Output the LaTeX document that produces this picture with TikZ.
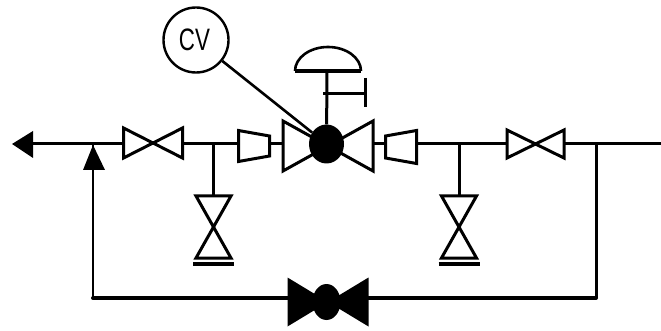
\documentclass[tikz,border=0pt]{standalone}
\usepackage{fontspec}
\usetikzlibrary{shapes.geometric}
\newfontfamily\tagfont[FakeStretch=0.72]{Liberation Sans}
\tikzset{
    pipe/.style={line width=3pt},
    valveline/.style={line width=3pt,line join=miter},
    valvebox/.style={inner sep=0pt,outer sep=0pt,draw=none},
    capbar/.style={line width=4.5pt},
}
\begin{document}
\begin{tikzpicture}[x=1pt,y=-1pt]
    \useasboundingbox (0,0) rectangle (661,331);
    % valves on the line
    \node[valvebox,minimum width=59pt,minimum height=30pt](gatea) at (153,143){};
    \node[valvebox,minimum width=57pt,minimum height=28pt](gateb) at (535.5,144){};
    \node[valvebox,minimum width=90pt,minimum height=50pt](mainv) at (328,146){};
    \node[valvebox,minimum width=35pt,minimum height=62pt](draina) at (213.5,227){};
    \node[valvebox,minimum width=35pt,minimum height=62pt](drainb) at (459,227){};
    \node[valvebox,minimum width=81pt,minimum height=49pt](bypass) at (328,302){};
    \node[valvebox,minimum width=31pt,minimum height=31pt](redua) at (254,146){};
    \node[valvebox,minimum width=31pt,minimum height=33pt](redub) at (401,147){};
    \node[circle,draw,line width=2.4pt,inner sep=0pt,minimum size=65pt,font=\tagfont\fontsize{31}{31}\selectfont](cv) at (196,40){\raisebox{1.5pt}{CV}\hspace*{3pt}};
    \node[ellipse,fill=black,inner sep=0pt,minimum width=35pt,minimum height=39pt](plug) at (326.5,144){};
    \node[ellipse,fill=black,inner sep=0pt,minimum width=28pt,minimum height=36pt](bypassplug) at (326.5,302){};
    % tees and corners
    \coordinate (outlet) at (33,144);
    \coordinate (teea) at (93,144);
    \coordinate (teeb) at (213.5,144);
    \coordinate (teec) at (459,144);
    \coordinate (teed) at (596,144);
    \coordinate (inlet) at (661,144);
    \coordinate (corna) at (93,298);
    \coordinate (cornb) at (596,298);
    \coordinate (stemtop) at (327,71);
    \coordinate (wheel) at (365,94);
    \coordinate (stemwheel) at (323,94);
    % pipes
    \draw[pipe] (outlet) -- (gatea.west |- outlet);
    \draw[pipe] (gatea.east |- outlet) -- (redua.west |- outlet);
    \draw[pipe] (redua.east |- outlet) -- (mainv.west |- outlet);
    \draw[pipe] (mainv.east |- outlet) -- (redub.west |- outlet);
    \draw[pipe] (redub.east |- outlet) -- (gateb.west |- outlet);
    \draw[pipe] (gateb.east |- outlet) -- (inlet);
    \draw[pipe] (teeb) -- (draina.north);
    \draw[pipe] (teec) -- (drainb.north);
    \draw[line width=2.6pt] (teea) -- (corna);
    \draw[line width=3pt] (teed) -- (cornb);
    \draw[line width=4pt,line cap=round] (corna) -- (bypass.west |- corna);
    \draw[line width=4pt,line cap=round] (bypass.east |- cornb) -- (cornb);
    % bow ties
    \foreach \v in {gatea,gateb,mainv}
        \draw[valveline] (\v.north west) -- (\v.south east) -- (\v.north east) -- (\v.south west) -- cycle;
    \foreach \v in {draina,drainb}
        \draw[valveline] (\v.north west) -- (\v.south east) -- (\v.south west) -- (\v.north east) -- cycle;
    \fill (bypass.north west) -- (bypass.south east) -- (bypass.north east) -- (bypass.south west) -- cycle;
    % reducers
    \draw[valveline] (redua.north west) -- (redua.east |- 0,136) -- (redua.east |- 0,156) -- (redua.south west) -- cycle;
    \draw[valveline] (redub.north east) -- (redub.west |- 0,136) -- (redub.west |- 0,158) -- (redub.south east) -- cycle;
    % caps under the drains
    \draw[capbar] ([xshift=-3pt,yshift=-6pt]draina.south west) -- ([xshift=3pt,yshift=-6pt]draina.south east);
    \draw[capbar] ([xshift=-3pt,yshift=-6pt]drainb.south west) -- ([xshift=3pt,yshift=-6pt]drainb.south east);
    % arrows
    \fill (outlet |- 0,131) -- (12,144) -- (outlet |- 0,158) -- cycle;
    \fill (teea |- 0,145) -- (83,170) -- (105,170) -- cycle;
    % actuator
    \draw[pipe] (plug) -- (stemtop);
    \draw[line width=3.5pt] ([xshift=-32pt]stemtop) -- ([xshift=34pt]stemtop);
    \draw[line width=2.6pt] ([xshift=-32pt]stemtop) arc[start angle=180,end angle=0,x radius=33pt,y radius=24pt];
    \draw[pipe] (stemwheel) -- (wheel);
    \draw[pipe] ([yshift=16pt]wheel) -- ([yshift=-13pt]wheel);
    % signal line
    \draw[line width=2.6pt] (cv) -- (plug);
\end{tikzpicture}
\end{document}
